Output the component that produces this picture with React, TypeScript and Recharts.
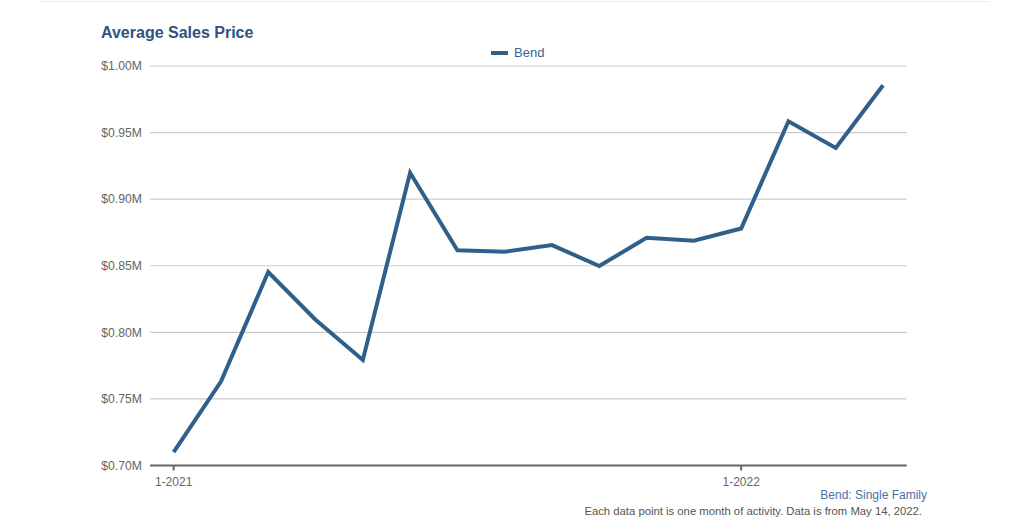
import React from "react";
import { LineChart, Line, XAxis, YAxis, CartesianGrid } from "recharts";

const months = [
  "1-2021", "2-2021", "3-2021", "4-2021", "5-2021", "6-2021", "7-2021", "8-2021",
  "9-2021", "10-2021", "11-2021", "12-2021", "1-2022", "2-2022", "3-2022", "4-2022",
];
const bendPrices = [
  0.7101, 0.763, 0.8453, 0.8095, 0.7793, 0.9198, 0.8616, 0.8605,
  0.8655, 0.8498, 0.871, 0.8688, 0.878, 0.9585, 0.9385, 0.9855,
];
const yTicks = [0.7, 0.75, 0.8, 0.85, 0.9, 0.95, 1.0];
const xTickIndices = [0, 12];

const data = months.map((m, i) => ({ idx: i, month: m, bend: bendPrices[i] }));

const FONT = "'Liberation Sans', Arial, Helvetica, sans-serif";
const LINE_COLOR = "#2f5f8b";

export default function App() {
  return (
    <div
      style={{
        position: "absolute",
        left: 0,
        top: 0,
        width: 1024,
        height: 520,
        background: "#ffffff",
        fontFamily: FONT,
      }}
    >
      <div
        style={{
          position: "absolute",
          left: 40,
          top: 1,
          width: 950,
          height: 0,
          borderTop: "1px solid #ececec",
        }}
      />
      <div
        style={{
          position: "absolute",
          left: 101,
          top: 24,
          fontSize: 16,
          fontWeight: "bold",
          color: "#2d5380",
          whiteSpace: "nowrap",
        }}
      >
        Average Sales Price
      </div>
      <div
        style={{
          position: "absolute",
          left: 491,
          top: 45,
          display: "flex",
          alignItems: "center",
          whiteSpace: "nowrap",
        }}
      >
        <div style={{ width: 17, height: 4, background: LINE_COLOR, marginRight: 6 }} />
        <span style={{ fontSize: 13, color: "#3a6391" }}>Bend</span>
      </div>
      <LineChart
        width={1024}
        height={520}
        data={data}
        margin={{ top: 66, right: 117.3, bottom: 24.5, left: 90 }}
      >
        <CartesianGrid vertical={false} stroke="#cccccc" strokeWidth={1.2} />
        <XAxis
          dataKey="idx"
          type="number"
          domain={[-0.5, 15.5]}
          ticks={xTickIndices}
          tickFormatter={(v: number) => months[v]}
          stroke="#666666"
          strokeWidth={2}
          tickSize={5}
          tickMargin={7}
          tick={{ fill: "#666666", fontSize: 12, fontFamily: FONT }}
          height={30}
        />
        <YAxis
          type="number"
          domain={[0.7, 1.0]}
          ticks={yTicks}
          tickFormatter={(v: number) => `$${v.toFixed(2)}M`}
          axisLine={false}
          tickLine={false}
          width={60}
          tick={{ fill: "#666666", fontSize: 12.2, fontFamily: FONT }}
        />
        <Line
          type="linear"
          dataKey="bend"
          stroke={LINE_COLOR}
          strokeWidth={4}
          dot={false}
          activeDot={false}
          isAnimationActive={false}
        />
      </LineChart>
      <div
        style={{
          position: "absolute",
          right: 1024 - 927,
          top: 488,
          fontSize: 12,
          color: "#4a72a3",
          whiteSpace: "nowrap",
        }}
      >
        Bend: Single Family
      </div>
      <div
        style={{
          position: "absolute",
          right: 1024 - 922,
          top: 505,
          fontSize: 11.3,
          color: "#555555",
          whiteSpace: "nowrap",
        }}
      >
        Each data point is one month of activity. Data is from May 14, 2022.
      </div>
    </div>
  );
}
